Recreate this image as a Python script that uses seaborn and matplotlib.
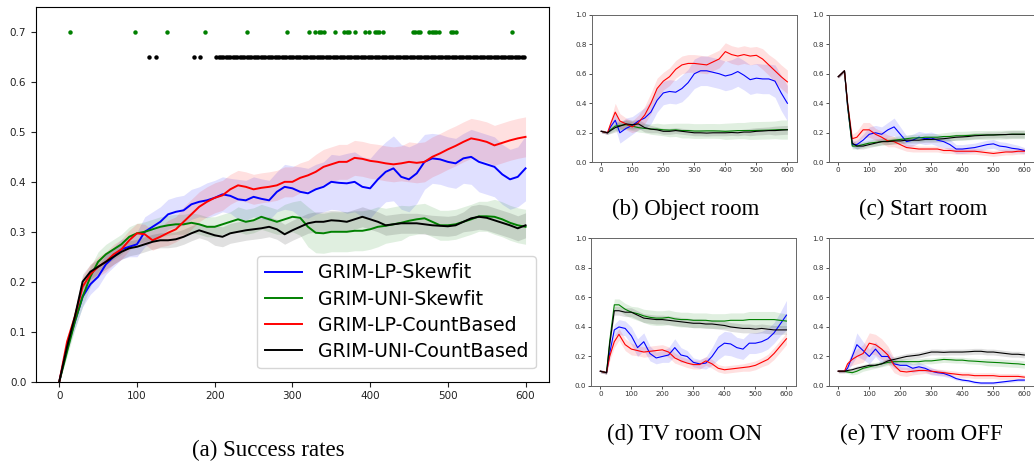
import numpy as np
import matplotlib
matplotlib.use("Agg")
import matplotlib.pyplot as plt
import seaborn as sns

# ---- main panel (a): success rates, one value every 10 episodes ----
steps = np.arange(0, 601, 10)

lp_skew = [0.0, 0.07, 0.12, 0.17, 0.195, 0.21, 0.235, 0.25, 0.265, 0.27,
           0.275, 0.30, 0.31, 0.32, 0.335, 0.34, 0.343, 0.355, 0.36, 0.363,
           0.368, 0.375, 0.372, 0.365, 0.363, 0.37, 0.366, 0.363, 0.38, 0.39,
           0.387, 0.38, 0.377, 0.385, 0.39, 0.40, 0.398, 0.397, 0.40, 0.39,
           0.387, 0.405, 0.42, 0.427, 0.41, 0.405, 0.417, 0.44, 0.447, 0.445,
           0.44, 0.437, 0.447, 0.45, 0.44, 0.435, 0.43, 0.415, 0.405, 0.41, 0.427]
lp_skew_sd = [0.0, 0.01, 0.015, 0.02, 0.02, 0.02, 0.02, 0.02, 0.02, 0.02,
              0.025, 0.03, 0.03, 0.03, 0.03, 0.03, 0.03, 0.03, 0.03, 0.035,
              0.035, 0.035, 0.035, 0.04, 0.04, 0.04, 0.04, 0.04, 0.04, 0.045,
              0.045, 0.05, 0.05, 0.05, 0.05, 0.055, 0.055, 0.06, 0.06, 0.06,
              0.06, 0.06, 0.06, 0.065, 0.065, 0.065, 0.06, 0.055, 0.05, 0.05,
              0.05, 0.05, 0.05, 0.055, 0.06, 0.06, 0.06, 0.06, 0.06, 0.06, 0.065]

uni_skew = [0.0, 0.06, 0.12, 0.17, 0.21, 0.24, 0.255, 0.265, 0.275, 0.29,
            0.297, 0.30, 0.305, 0.31, 0.313, 0.315, 0.315, 0.318, 0.315, 0.31,
            0.31, 0.315, 0.32, 0.325, 0.32, 0.323, 0.33, 0.325, 0.32, 0.325,
            0.33, 0.328, 0.31, 0.298, 0.297, 0.30, 0.30, 0.30, 0.302, 0.302,
            0.305, 0.31, 0.312, 0.315, 0.318, 0.322, 0.325, 0.327, 0.32, 0.313,
            0.313, 0.315, 0.32, 0.325, 0.331, 0.331, 0.33, 0.325, 0.318, 0.313, 0.31]
uni_skew_sd = [0.0, 0.01, 0.015, 0.02, 0.02, 0.02, 0.02, 0.02, 0.02, 0.02,
               0.02, 0.02, 0.02, 0.02, 0.02, 0.02, 0.02, 0.02, 0.02, 0.02,
               0.02, 0.02, 0.02, 0.025, 0.025, 0.025, 0.025, 0.025, 0.025, 0.03,
               0.03, 0.035, 0.04, 0.04, 0.04, 0.04, 0.04, 0.04, 0.04, 0.04,
               0.04, 0.04, 0.035, 0.035, 0.035, 0.03, 0.03, 0.03, 0.03, 0.03,
               0.03, 0.03, 0.03, 0.03, 0.03, 0.03, 0.035, 0.035, 0.035, 0.035, 0.035]

lp_count = [0.0, 0.08, 0.13, 0.19, 0.215, 0.23, 0.24, 0.255, 0.265, 0.283,
            0.297, 0.295, 0.283, 0.29, 0.298, 0.305, 0.32, 0.335, 0.35, 0.36,
            0.368, 0.373, 0.385, 0.393, 0.39, 0.385, 0.388, 0.39, 0.393, 0.40,
            0.40, 0.408, 0.413, 0.42, 0.43, 0.435, 0.44, 0.44, 0.448, 0.446,
            0.442, 0.44, 0.437, 0.435, 0.437, 0.44, 0.438, 0.44, 0.45, 0.457,
            0.465, 0.472, 0.48, 0.487, 0.484, 0.48, 0.473, 0.478, 0.483, 0.487, 0.49]
lp_count_sd = [0.0, 0.01, 0.015, 0.02, 0.02, 0.02, 0.02, 0.02, 0.02, 0.02,
               0.02, 0.02, 0.02, 0.02, 0.025, 0.025, 0.03, 0.03, 0.03, 0.03,
               0.03, 0.03, 0.03, 0.03, 0.03, 0.03, 0.03, 0.03, 0.03, 0.03,
               0.03, 0.03, 0.03, 0.035, 0.035, 0.035, 0.035, 0.035, 0.035, 0.035,
               0.035, 0.035, 0.035, 0.035, 0.035, 0.04, 0.04, 0.04, 0.04, 0.04,
               0.04, 0.04, 0.04, 0.04, 0.04, 0.04, 0.04, 0.04, 0.04, 0.04, 0.04]

uni_count = [0.0, 0.07, 0.13, 0.20, 0.22, 0.23, 0.24, 0.25, 0.26, 0.267,
             0.27, 0.275, 0.28, 0.283, 0.283, 0.285, 0.29, 0.297, 0.303, 0.298,
             0.293, 0.29, 0.297, 0.30, 0.303, 0.305, 0.307, 0.31, 0.305, 0.295,
             0.303, 0.31, 0.317, 0.32, 0.32, 0.323, 0.322, 0.32, 0.325, 0.33,
             0.325, 0.32, 0.313, 0.315, 0.317, 0.317, 0.317, 0.315, 0.313, 0.312,
             0.311, 0.313, 0.32, 0.327, 0.33, 0.328, 0.323, 0.318, 0.313, 0.307, 0.313]
uni_count_sd = [0.0, 0.01, 0.01, 0.015, 0.015, 0.015, 0.015, 0.015, 0.015, 0.015,
                0.015, 0.015, 0.015, 0.015, 0.015, 0.015, 0.015, 0.015, 0.015, 0.015,
                0.02, 0.02, 0.02, 0.02, 0.02, 0.02, 0.02, 0.02, 0.02, 0.02,
                0.02, 0.02, 0.02, 0.02, 0.02, 0.02, 0.02, 0.02, 0.02, 0.02,
                0.02, 0.02, 0.02, 0.02, 0.02, 0.02, 0.02, 0.02, 0.02, 0.02,
                0.02, 0.02, 0.02, 0.025, 0.025, 0.025, 0.025, 0.025, 0.025, 0.025, 0.025]

# episodes where the difference is significant (dots at the top)
sig_skew = [14, 98, 139, 188, 241, 293, 321, 329, 334, 337, 341, 355, 367, 370,
            373, 380, 394, 399, 406, 409, 412, 416, 455, 458, 461, 464, 476,
            479, 482, 485, 488, 504, 507, 510, 582]
sig_count = [115, 124, 173, 181] + list(range(202, 601, 3))

# ---- small panels: per-room success, common episode grid ----
room_x = [0, 10, 20, 30, 45, 60, 80, 100, 120, 140, 160, 180, 200, 220, 240, 260,
          280, 300, 320, 340, 360, 380, 400, 420, 440, 460, 480, 500, 520, 540,
          560, 580, 600]

# (b) Object room
obj_lp_skew = [0.21, 0.205, 0.20, 0.24, 0.285, 0.20, 0.23, 0.25, 0.28, 0.30, 0.34,
               0.42, 0.47, 0.48, 0.475, 0.50, 0.54, 0.60, 0.62, 0.62, 0.61, 0.60,
               0.585, 0.595, 0.615, 0.59, 0.56, 0.57, 0.565, 0.565, 0.55, 0.47, 0.40]
obj_lp_skew_sd = [0.01, 0.01, 0.01, 0.03, 0.05, 0.07, 0.07, 0.06, 0.06, 0.07, 0.08,
                  0.08, 0.08, 0.08, 0.08, 0.09, 0.09, 0.1, 0.1, 0.1, 0.1, 0.1,
                  0.1, 0.1, 0.1, 0.1, 0.1, 0.1, 0.1, 0.1, 0.11, 0.12, 0.12]
obj_uni_skew = [0.21, 0.205, 0.20, 0.22, 0.245, 0.25, 0.255, 0.245, 0.235, 0.23, 0.225,
                0.225, 0.22, 0.218, 0.22, 0.215, 0.215, 0.212, 0.212, 0.213, 0.213, 0.212,
                0.21, 0.212, 0.215, 0.215, 0.215, 0.216, 0.217, 0.218, 0.22, 0.222, 0.222]
obj_uni_skew_sd = [0.01, 0.01, 0.01, 0.02, 0.03, 0.03, 0.03, 0.03, 0.03, 0.03, 0.035,
                   0.04, 0.04, 0.045, 0.045, 0.05, 0.05, 0.05, 0.05, 0.05, 0.05, 0.05,
                   0.055, 0.055, 0.055, 0.055, 0.06, 0.06, 0.06, 0.06, 0.06, 0.065, 0.065]
obj_lp_count = [0.21, 0.205, 0.20, 0.26, 0.34, 0.28, 0.26, 0.24, 0.27, 0.32, 0.40,
                0.50, 0.55, 0.58, 0.63, 0.66, 0.67, 0.67, 0.665, 0.66, 0.68, 0.70,
                0.75, 0.73, 0.72, 0.73, 0.72, 0.725, 0.70, 0.66, 0.62, 0.58, 0.545]
obj_lp_count_sd = [0.01, 0.01, 0.01, 0.03, 0.06, 0.05, 0.04, 0.04, 0.05, 0.06, 0.07,
                   0.07, 0.06, 0.06, 0.06, 0.06, 0.06, 0.06, 0.06, 0.06, 0.06, 0.06,
                   0.06, 0.06, 0.06, 0.06, 0.06, 0.06, 0.07, 0.07, 0.08, 0.08, 0.08]
obj_uni_count = [0.21, 0.205, 0.20, 0.215, 0.235, 0.245, 0.26, 0.255, 0.26, 0.235, 0.225,
                 0.22, 0.21, 0.21, 0.215, 0.21, 0.205, 0.20, 0.20, 0.198, 0.20, 0.20,
                 0.20, 0.202, 0.20, 0.205, 0.205, 0.21, 0.212, 0.215, 0.215, 0.218, 0.22]
obj_uni_count_sd = [0.01, 0.01, 0.01, 0.02, 0.03, 0.03, 0.03, 0.03, 0.03, 0.03, 0.025,
                    0.02, 0.02, 0.02, 0.02, 0.02, 0.02, 0.02, 0.02, 0.02, 0.02, 0.02,
                    0.02, 0.02, 0.02, 0.02, 0.025, 0.025, 0.025, 0.025, 0.03, 0.03, 0.03]

# (c) Start room
start_lp_skew = [0.58, 0.60, 0.62, 0.38, 0.12, 0.12, 0.15, 0.19, 0.20, 0.19, 0.22,
                 0.24, 0.19, 0.14, 0.15, 0.17, 0.16, 0.165, 0.15, 0.14, 0.12, 0.09,
                 0.09, 0.095, 0.10, 0.11, 0.12, 0.125, 0.11, 0.105, 0.095, 0.09, 0.08]
start_lp_skew_sd = [0.01, 0.01, 0.01, 0.02, 0.02, 0.03, 0.04, 0.05, 0.05, 0.05, 0.05,
                    0.06, 0.05, 0.04, 0.04, 0.04, 0.04, 0.04, 0.04, 0.04, 0.035, 0.03,
                    0.03, 0.03, 0.03, 0.03, 0.03, 0.03, 0.03, 0.03, 0.03, 0.025, 0.02]
start_uni_skew = [0.58, 0.60, 0.62, 0.38, 0.11, 0.11, 0.12, 0.13, 0.135, 0.14, 0.145,
                  0.15, 0.155, 0.16, 0.165, 0.165, 0.17, 0.17, 0.17, 0.175, 0.175, 0.18,
                  0.18, 0.182, 0.185, 0.185, 0.185, 0.186, 0.187, 0.188, 0.19, 0.19, 0.19]
start_uni_skew_sd = [0.01, 0.01, 0.01, 0.02, 0.02, 0.02, 0.02, 0.02, 0.025, 0.025, 0.025,
                     0.025, 0.025, 0.025, 0.025, 0.025, 0.025, 0.025, 0.025, 0.025, 0.03, 0.03,
                     0.03, 0.03, 0.03, 0.03, 0.03, 0.03, 0.03, 0.03, 0.03, 0.03, 0.03]
start_lp_count = [0.58, 0.60, 0.62, 0.40, 0.16, 0.17, 0.22, 0.22, 0.19, 0.17, 0.145,
                  0.14, 0.12, 0.10, 0.095, 0.09, 0.09, 0.09, 0.09, 0.08, 0.08, 0.075,
                  0.075, 0.075, 0.075, 0.07, 0.065, 0.06, 0.065, 0.07, 0.07, 0.075, 0.075]
start_lp_count_sd = [0.01, 0.01, 0.01, 0.02, 0.03, 0.04, 0.05, 0.05, 0.04, 0.04, 0.04,
                     0.035, 0.03, 0.025, 0.025, 0.02, 0.02, 0.02, 0.02, 0.02, 0.02, 0.02,
                     0.02, 0.02, 0.02, 0.02, 0.02, 0.02, 0.02, 0.02, 0.02, 0.02, 0.02]
start_uni_count = [0.58, 0.60, 0.62, 0.40, 0.13, 0.11, 0.11, 0.12, 0.13, 0.14, 0.14,
                   0.145, 0.145, 0.15, 0.15, 0.15, 0.155, 0.155, 0.157, 0.16, 0.165, 0.17,
                   0.172, 0.175, 0.18, 0.182, 0.185, 0.185, 0.187, 0.188, 0.19, 0.19, 0.19]
start_uni_count_sd = [0.01, 0.01, 0.01, 0.02, 0.02, 0.02, 0.02, 0.02, 0.02, 0.02, 0.02,
                      0.02, 0.02, 0.02, 0.02, 0.02, 0.02, 0.02, 0.02, 0.02, 0.02, 0.02,
                      0.02, 0.02, 0.02, 0.02, 0.02, 0.02, 0.02, 0.025, 0.025, 0.025, 0.025]

# (d) TV room ON
on_lp_skew = [0.10, 0.095, 0.09, 0.22, 0.38, 0.40, 0.39, 0.34, 0.26, 0.30, 0.22,
              0.19, 0.20, 0.21, 0.26, 0.21, 0.20, 0.16, 0.15, 0.155, 0.20, 0.26,
              0.29, 0.285, 0.26, 0.25, 0.29, 0.29, 0.30, 0.32, 0.36, 0.42, 0.48]
on_lp_skew_sd = [0.01, 0.01, 0.01, 0.03, 0.04, 0.05, 0.05, 0.06, 0.06, 0.06, 0.05,
                 0.04, 0.04, 0.05, 0.06, 0.05, 0.04, 0.03, 0.03, 0.04, 0.06, 0.08,
                 0.08, 0.08, 0.07, 0.07, 0.07, 0.07, 0.07, 0.07, 0.07, 0.08, 0.1]
on_uni_skew = [0.10, 0.095, 0.09, 0.30, 0.55, 0.55, 0.52, 0.50, 0.49, 0.475, 0.465,
               0.46, 0.46, 0.465, 0.455, 0.45, 0.45, 0.445, 0.445, 0.445, 0.44, 0.44,
               0.44, 0.445, 0.445, 0.445, 0.45, 0.45, 0.45, 0.45, 0.45, 0.445, 0.44]
on_uni_skew_sd = [0.01, 0.01, 0.01, 0.03, 0.04, 0.04, 0.04, 0.04, 0.045, 0.045, 0.05,
                  0.05, 0.05, 0.05, 0.05, 0.05, 0.05, 0.05, 0.05, 0.05, 0.05, 0.05,
                  0.05, 0.05, 0.05, 0.05, 0.055, 0.055, 0.055, 0.055, 0.055, 0.05, 0.05]
on_lp_count = [0.10, 0.095, 0.09, 0.20, 0.30, 0.35, 0.28, 0.25, 0.24, 0.23, 0.235,
               0.24, 0.245, 0.23, 0.19, 0.17, 0.155, 0.145, 0.145, 0.17, 0.15, 0.12,
               0.11, 0.115, 0.12, 0.125, 0.13, 0.14, 0.16, 0.18, 0.22, 0.27, 0.32]
on_lp_count_sd = [0.01, 0.01, 0.01, 0.03, 0.04, 0.04, 0.04, 0.04, 0.035, 0.035, 0.035,
                  0.035, 0.035, 0.035, 0.035, 0.03, 0.03, 0.03, 0.03, 0.03, 0.03, 0.025,
                  0.025, 0.025, 0.025, 0.025, 0.03, 0.03, 0.03, 0.035, 0.04, 0.04, 0.04]
on_uni_count = [0.10, 0.095, 0.09, 0.28, 0.51, 0.51, 0.50, 0.50, 0.48, 0.46, 0.455,
                0.45, 0.45, 0.445, 0.44, 0.435, 0.43, 0.425, 0.425, 0.42, 0.42, 0.415,
                0.41, 0.40, 0.395, 0.39, 0.39, 0.385, 0.39, 0.385, 0.38, 0.38, 0.38]
on_uni_count_sd = [0.01, 0.01, 0.01, 0.02, 0.03, 0.03, 0.03, 0.03, 0.03, 0.03, 0.03,
                   0.03, 0.03, 0.03, 0.03, 0.03, 0.03, 0.03, 0.03, 0.03, 0.03, 0.03,
                   0.03, 0.03, 0.03, 0.03, 0.03, 0.03, 0.03, 0.03, 0.03, 0.03, 0.03]

# (e) TV room OFF
off_lp_skew = [0.10, 0.10, 0.10, 0.12, 0.20, 0.28, 0.24, 0.20, 0.25, 0.20, 0.20,
               0.15, 0.14, 0.14, 0.12, 0.13, 0.12, 0.10, 0.09, 0.085, 0.07, 0.05,
               0.04, 0.035, 0.025, 0.02, 0.02, 0.02, 0.025, 0.03, 0.035, 0.04, 0.04]
off_lp_skew_sd = [0.01, 0.01, 0.01, 0.02, 0.05, 0.08, 0.06, 0.05, 0.05, 0.05, 0.04,
                  0.03, 0.03, 0.03, 0.03, 0.03, 0.025, 0.025, 0.02, 0.02, 0.015, 0.01,
                  0.01, 0.01, 0.01, 0.01, 0.01, 0.01, 0.01, 0.01, 0.01, 0.01, 0.01]
off_uni_skew = [0.10, 0.10, 0.10, 0.095, 0.09, 0.10, 0.12, 0.13, 0.14, 0.15, 0.16,
                0.165, 0.165, 0.165, 0.165, 0.165, 0.17, 0.17, 0.175, 0.18, 0.178, 0.175,
                0.175, 0.17, 0.168, 0.165, 0.162, 0.16, 0.158, 0.155, 0.152, 0.15, 0.145]
off_uni_skew_sd = [0.01, 0.01, 0.01, 0.01, 0.015, 0.02, 0.02, 0.02, 0.02, 0.02, 0.02,
                   0.02, 0.02, 0.02, 0.02, 0.02, 0.02, 0.02, 0.02, 0.02, 0.02, 0.02,
                   0.02, 0.02, 0.02, 0.02, 0.025, 0.025, 0.025, 0.025, 0.025, 0.025, 0.025]
off_lp_count = [0.10, 0.10, 0.10, 0.15, 0.18, 0.20, 0.22, 0.29, 0.28, 0.25, 0.21,
                0.14, 0.10, 0.095, 0.10, 0.105, 0.105, 0.10, 0.095, 0.09, 0.085, 0.08,
                0.075, 0.075, 0.07, 0.07, 0.07, 0.07, 0.065, 0.065, 0.065, 0.065, 0.06]
off_lp_count_sd = [0.01, 0.01, 0.01, 0.02, 0.04, 0.05, 0.06, 0.07, 0.07, 0.07, 0.06,
                   0.05, 0.03, 0.03, 0.025, 0.025, 0.02, 0.02, 0.02, 0.02, 0.02, 0.02,
                   0.02, 0.02, 0.02, 0.02, 0.02, 0.02, 0.02, 0.02, 0.02, 0.02, 0.015]
off_uni_count = [0.10, 0.10, 0.10, 0.105, 0.11, 0.12, 0.13, 0.14, 0.14, 0.15, 0.17,
                 0.18, 0.19, 0.20, 0.205, 0.21, 0.22, 0.23, 0.23, 0.228, 0.23, 0.23,
                 0.23, 0.232, 0.235, 0.235, 0.23, 0.23, 0.225, 0.22, 0.215, 0.215, 0.21]
off_uni_count_sd = [0.01, 0.01, 0.01, 0.01, 0.015, 0.015, 0.015, 0.015, 0.015, 0.015, 0.02,
                    0.02, 0.02, 0.02, 0.02, 0.02, 0.02, 0.02, 0.02, 0.02, 0.02, 0.02,
                    0.02, 0.02, 0.02, 0.02, 0.02, 0.02, 0.02, 0.02, 0.02, 0.02, 0.02]

labels = ['GRIM-LP-Skewfit', 'GRIM-UNI-Skewfit', 'GRIM-LP-CountBased', 'GRIM-UNI-CountBased']
colors = ['blue', 'green', 'red', 'black']


def draw_curves(ax, x, means, sds, lw, alpha, legend):
    for m, s, c, lab in zip(means, sds, colors, labels):
        m = np.array(m)
        s = np.array(s)
        ax.fill_between(x, m - s, m + s, color=c, alpha=alpha, lw=0)
        sns.lineplot(x=x, y=m, color=c, lw=lw, ax=ax,
                     label=lab if legend else None, legend=False)


plt.rcParams['font.family'] = ['DejaVu Sans']
fig = plt.figure(figsize=(10.34, 4.66), dpi=100)

# main panel
ax = fig.add_axes([0.0348, 0.181, 0.496, 0.804])
draw_curves(ax, steps,
            [lp_skew, uni_skew, lp_count, uni_count],
            [lp_skew_sd, uni_skew_sd, lp_count_sd, uni_count_sd],
            lw=1.4, alpha=0.12, legend=True)
ax.plot(sig_skew, [0.7] * len(sig_skew), 'o', color='green', ms=3.2, mew=0)
ax.plot(sig_count, [0.65] * len(sig_count), 'o', color='black', ms=3.2, mew=0)
ax.set_xlim(-30, 630)
ax.set_ylim(0, 0.75)
ax.set_xticks([0, 100, 200, 300, 400, 500, 600])
ax.set_yticks([0.0, 0.1, 0.2, 0.3, 0.4, 0.5, 0.6, 0.7])
ax.tick_params(labelsize=7.5, colors='#222222')
ax.set_xlabel('')
ax.set_ylabel('')
handles, labs = ax.get_legend_handles_labels()
ax.legend(handles, labs, loc='lower right', fontsize=13.6, labelspacing=0.38,
          borderaxespad=0.7)

# small panels
small = [
    ([0.5725, 0.6517, 0.198, 0.3167], [obj_lp_skew, obj_uni_skew, obj_lp_count, obj_uni_count],
     [obj_lp_skew_sd, obj_uni_skew_sd, obj_lp_count_sd, obj_uni_count_sd]),
    ([0.8017, 0.6517, 0.198, 0.3167], [start_lp_skew, start_uni_skew, start_lp_count, start_uni_count],
     [start_lp_skew_sd, start_uni_skew_sd, start_lp_count_sd, start_uni_count_sd]),
    ([0.5716, 0.1717, 0.198, 0.3167], [on_lp_skew, on_uni_skew, on_lp_count, on_uni_count],
     [on_lp_skew_sd, on_uni_skew_sd, on_lp_count_sd, on_uni_count_sd]),
    ([0.8017, 0.1717, 0.198, 0.3167], [off_lp_skew, off_uni_skew, off_lp_count, off_uni_count],
     [off_lp_skew_sd, off_uni_skew_sd, off_lp_count_sd, off_uni_count_sd]),
]
for rect, means, sds in small:
    sax = fig.add_axes(rect)
    draw_curves(sax, room_x, means, sds, lw=0.8, alpha=0.12, legend=False)
    sax.set_xlim(-30, 630)
    sax.set_ylim(0, 1.0)
    sax.set_xticks([0, 100, 200, 300, 400, 500, 600])
    sax.set_yticks([0.0, 0.2, 0.4, 0.6, 0.8, 1.0])
    sax.tick_params(labelsize=5.2, length=2, width=0.6, pad=1.5, colors='#333333')
    for sp in sax.spines.values():
        sp.set_linewidth(0.7)
        sp.set_color('#666666')
    sax.set_xlabel('')
    sax.set_ylabel('')

# sub-figure captions
cap = dict(fontsize=16.5, family='Liberation Serif', ha='center', va='center')
fig.text(268 / 1034, 1 - 450 / 466, '(a) Success rates', **cap)
fig.text(686 / 1034, 1 - 209 / 466, '(b) Object room', **cap)
fig.text(923 / 1034, 1 - 209 / 466, '(c) Start room', **cap)
fig.text(685 / 1034, 1 - 434 / 466, '(d) TV room ON', **cap)
fig.text(921 / 1034, 1 - 434 / 466, '(e) TV room OFF', **cap)

fig.savefig('out.png', dpi=100)
